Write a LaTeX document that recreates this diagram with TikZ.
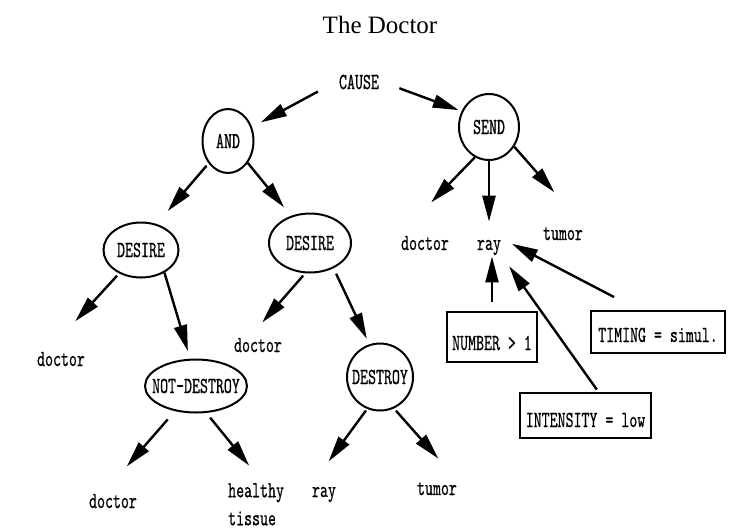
\documentclass[tikz,border=0pt]{standalone}
\usepackage{fontspec}
\usetikzlibrary{arrows.meta,shapes.geometric}
\newfontfamily\titlefont{Liberation Serif}
\newfontfamily\monofont{lmmono10-regular.otf}[FakeStretch=0.66,FakeBold=0.5]
\newcommand\lbl{\monofont\fontsize{23}{28}\selectfont}

\begin{document}
\begin{tikzpicture}[x=1pt,y=-1pt,
    oval/.style = {draw, ellipse, line width=2pt, inner sep=0pt, font=\lbl,
      execute at begin node={\hbox to 0pt\bgroup\hss}, execute at end node={\hss\egroup}},
    word/.style = {inner sep=1pt, font=\lbl, anchor=base},
    attr/.style = {draw, rectangle, line width=2pt, inner sep=0pt, font=\lbl, text depth=0pt},
    arr/.style = {-{Triangle[length=26pt,width=13pt]}, line width=2.4pt}]
    \useasboundingbox[fill=white] (0,0) rectangle (738,531);
    \node[font=\titlefont\fontsize{25}{30}\selectfont, anchor=base] (title) at (380,33) {The Doctor};
    \node[font=\lbl] (cause) at (359,82) {CAUSE};
    \node[oval, minimum width=51pt, minimum height=64pt] (and) at (228,141) {AND};
    \node[oval, minimum width=60pt, minimum height=66pt] (send) at (489,127) {SEND};
    \node[oval, minimum width=75pt, minimum height=55pt] (desl) at (141,250) {DESIRE};
    \node[oval, minimum width=82pt, minimum height=59pt] (desr) at (310,243) {DESIRE};
    \node[oval, minimum width=102pt, minimum height=53pt] (notd) at (196,386) {NOT-DESTROY};
    \node[oval, minimum width=66pt, minimum height=67pt] (destroy) at (380,377) {DESTROY};
    \node[word] (docl) at (61,366) {doctor};
    \node[word] (docm) at (258,352) {doctor};
    \node[word] (docb) at (113,508) {doctor};
    \node[word, anchor=north west, align=left] (tissue) at (227,482) {healthy\\tissue};
    \node[word] (rayb) at (324,497) {ray};
    \node[word] (tumorb) at (437,495) {tumor};
    \node[word] (docr) at (425,250) {doctor};
    \node[word] (rayr) at (489,250) {ray};
    \node[word] (tumorr) at (563,240) {tumor};
    \node[attr, minimum width=90pt, minimum height=50pt, text height=26pt] (numb) at (492,337) {NUMBER > 1};
    \node[attr, minimum width=134pt, minimum height=42pt, text height=20pt] (timing) at (658,332) {TIMING = simul.};
    \node[attr, minimum width=131pt, minimum height=45pt, text height=23pt] (intens) at (585.5,415.5) {INTENSITY = low};
    \draw[arr, shorten <=20pt, shorten >=10pt] (cause.west) -- (and.30);
    \draw[arr, shorten <=18pt, shorten >=3pt] (cause.east) -- (send.150);
    \draw[arr, shorten <=3pt, shorten >=17pt] (and.229) -- (desl.59);
    \draw[arr, shorten >=11pt] (and.312) -- (desr.125);
    \draw[arr, shorten <=3pt, shorten >=40pt] (desl.227) -- (docl.147);
    \draw[arr, shorten >=8pt] (desl.316) -- (notd.102);
    \draw[arr, shorten <=3pt, shorten >=19pt] (desr.261) -- (docm.135);
    \draw[arr, shorten <=6pt, shorten >=6pt] (desr.313) -- (destroy.108);
    \draw[arr, shorten <=11pt, shorten >=35pt] (notd.230) -- (docb.138);
    \draw[arr, shorten <=6pt, shorten >=21pt] (notd.291) -- (tissue.74);
    \draw[arr, shorten <=2pt, shorten >=30pt] (destroy.248) -- (rayb.north west);
    \draw[arr, shorten <=3pt, shorten >=30pt] (destroy.294) -- (tumorb.north east);
    \draw[arr, shorten >=45pt] (send.245) -- (docr.north west);
    \draw[arr, shorten >=17pt] (send) -- (rayr);
    \draw[arr, shorten >=45pt] (send.322) -- (tumorr.north east);
    \draw[arr, shorten <=9pt] (numb.north) -- (numb.north |- rayr.south);
    \draw[arr, shorten <=28pt, shorten >=11pt] (timing.131) -- (rayr.north east);
    \draw[arr, shorten <=3pt, shorten >=12pt] (intens.61) -- (rayr.south east);
\end{tikzpicture}
\end{document}
